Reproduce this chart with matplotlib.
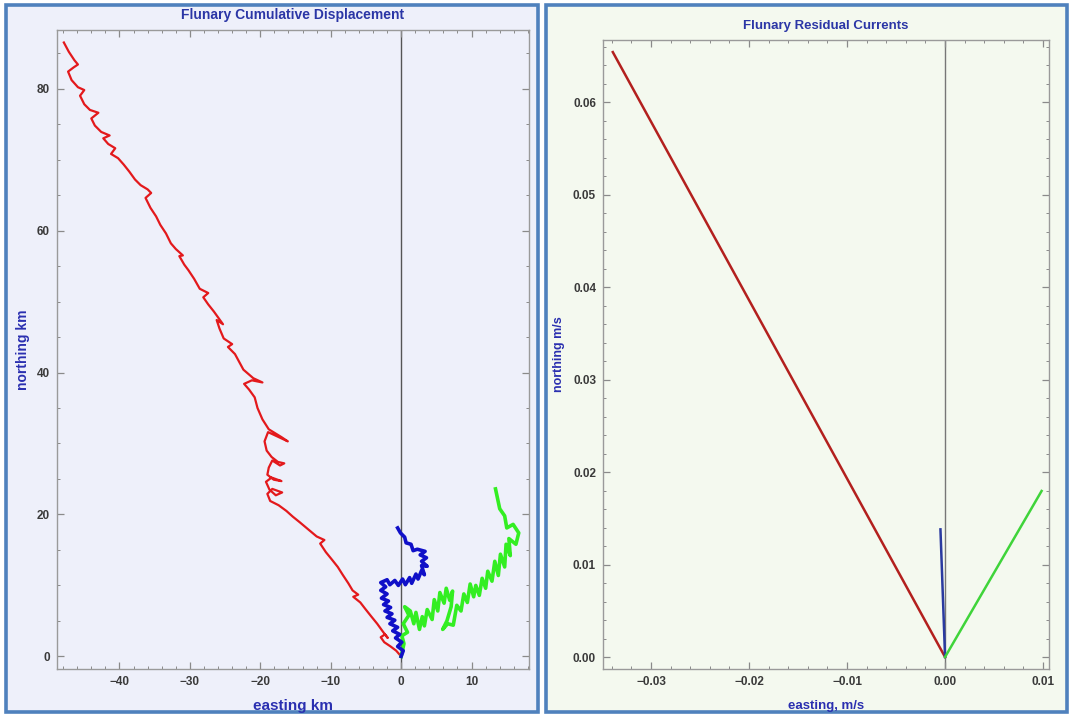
import matplotlib
matplotlib.use("Agg")
import matplotlib.pyplot as plt
from matplotlib.patches import FancyBboxPatch
from matplotlib.ticker import MultipleLocator, FuncFormatter

plt.rcParams['font.family'] = ['Liberation Sans', 'DejaVu Sans']

# cumulative displacement tracks, km (easting, northing)
red_e = [0.0, -0.7, -1.5, -2.4, -2.9, -2.3, -1.9, -2.6, -3.4, -4.3, -5.1, -5.8, -6.8, -6.1, -6.9,
         -7.5, -8.3, -9.0, -9.8, -10.7, -11.5, -10.9, -12.0, -13.2, -14.4, -15.4, -16.3,
         -17.4, -18.6, -19.0, -18.3, -16.9, -17.8, -18.7, -19.2, -18.4, -17.0, -18.1, -19.0,
         -18.8, -18.3, -17.2, -16.6, -17.5, -18.4, -19.1, -19.4, -18.9, -17.6, -16.1, -17.0,
         -18.8, -19.7, -20.4, -20.8, -21.6, -22.3, -21.2, -19.7, -21.0, -22.4, -23.0, -23.6,
         -24.6, -24.0, -25.2, -25.8, -26.2, -25.3, -26.6, -27.4, -28.1, -27.4, -28.6, -29.4,
         -30.2, -30.8, -31.5, -31.0, -32.0, -32.7, -33.4, -34.2, -34.8, -35.6, -36.3, -35.5,
         -36.0, -37.0, -37.8, -38.6, -39.4, -40.2, -41.2, -40.6, -41.6, -42.3, -41.4, -42.6,
         -43.5, -44.0, -43.0, -44.2, -45.0, -45.6, -45.0, -45.9, -46.8, -47.3, -46.5, -45.9,
         -46.4, -47.2, -47.9]
red_n = [0.0, 0.8, 1.4, 2.0, 2.7, 3.1, 2.6, 3.5, 4.6, 5.7, 6.7, 7.6, 8.4, 8.7, 9.3,
         10.3, 11.5, 12.6, 13.6, 14.7, 15.9, 16.4, 16.9, 17.9, 18.9, 19.7, 20.5,
         21.3, 21.9, 22.9, 23.6, 23.1, 22.7, 23.5, 24.6, 25.2, 24.7, 24.9, 25.6,
         26.6, 27.6, 26.9, 27.2, 27.4, 28.1, 29.0, 30.3, 31.6, 31.0, 30.3, 30.9,
         32.0, 33.4, 35.0, 36.5, 37.6, 38.4, 38.9, 38.6, 39.2, 40.4, 41.5, 42.6,
         43.6, 44.0, 44.8, 46.2, 47.4, 46.8, 48.6, 49.6, 50.6, 51.2, 51.8, 53.2,
         54.4, 55.2, 56.4, 56.5, 57.4, 58.2, 59.6, 60.8, 62.0, 63.2, 64.6, 65.3,
         65.8, 66.4, 67.2, 68.3, 69.3, 70.2, 70.8, 71.6, 72.2, 73.0, 73.4, 73.9,
         74.8, 75.8, 76.6, 77.0, 77.8, 79.0, 79.8, 80.2, 81.2, 82.4, 83.0, 83.4,
         84.0, 85.2, 86.5]

blue_e = [0.0, 0.3, -0.5, 0.1, -0.8, -0.2, -1.2, -0.5, -1.6, -0.9, -2.0, -1.3, -2.3, -1.5, -2.5,
          -1.8, -2.8, -2.0, -2.9, -2.2, -2.9, -2.0, -1.6, -0.9, -0.4, 0.2, 0.6, 1.2, 1.5, 2.1,
          2.4, 2.9, 3.3, 2.9, 3.7, 2.9, 3.6, 2.7, 3.4, 2.3, 1.7, 1.4, 0.7, 0.5, -0.1, -0.5]
blue_n = [0.0, 0.8, 1.4, 2.0, 2.6, 3.1, 3.6, 4.1, 4.6, 5.1, 5.5, 6.0, 6.4, 6.9, 7.3,
          7.8, 8.2, 8.8, 9.3, 9.8, 10.4, 10.8, 10.1, 10.7, 10.0, 10.9, 10.1, 11.1, 10.3, 11.6,
          10.9, 12.1, 11.5, 12.8, 12.7, 13.4, 13.9, 14.3, 14.8, 15.1, 14.9, 15.8, 16.0, 16.8, 17.4, 18.1]

green_e = [0.0, 0.4, 0.1, 0.9, 0.3, 1.1, 0.5, 1.3, 1.8, 2.1, 2.6, 3.0, 3.3, 3.7, 4.4, 4.7, 5.2,
           5.5, 6.1, 6.4, 6.9, 7.3, 7.1, 6.5, 5.9, 6.6, 7.4, 7.9, 8.5, 8.9, 9.4, 9.8, 10.3,
           10.6, 11.1, 11.5, 12.0, 12.3, 12.9, 13.3, 13.8, 14.1, 14.7, 14.9, 15.5, 15.3, 16.3,
           16.7, 15.9, 15.0, 14.7, 14.0, 13.7, 13.4]
green_n = [0.0, 1.8, 2.9, 3.4, 4.6, 5.8, 7.0, 6.4, 4.6, 6.2, 3.8, 5.6, 4.3, 6.6, 5.2, 8.0, 6.4,
           9.0, 7.5, 9.6, 7.9, 9.2, 7.0, 5.0, 3.8, 4.6, 4.4, 7.2, 6.4, 8.8, 7.6, 10.2, 8.4,
           10.0, 8.6, 11.0, 9.6, 12.0, 10.6, 13.4, 11.4, 14.4, 12.6, 15.8, 14.2, 16.6, 15.8,
           17.4, 18.6, 18.1, 19.8, 20.8, 22.2, 23.6]

# residual currents, m/s (end points of lines from the origin)
resid_names = ["red", "blue", "green"]
resid_e = [-0.0339, -0.00047, 0.00985]
resid_n = [0.0654, 0.0138, 0.01795]

title_col = '#2b36a6'
label_col = '#2a2fb0'
tick_col = '#3a3a3a'

fig = plt.figure(figsize=(10.72, 7.18), dpi=100)
fig.patch.set_facecolor('white')

# panel boxes
fig.add_artist(FancyBboxPatch((0.0060, 0.0085), 0.4960, 0.9840, boxstyle="square,pad=0",
                              transform=fig.transFigure, facecolor='#eef0fa',
                              edgecolor='#4f81bd', linewidth=2.6, zorder=0))
fig.add_artist(FancyBboxPatch((0.5095, 0.0085), 0.4860, 0.9840, boxstyle="square,pad=0",
                              transform=fig.transFigure, facecolor='#f4f9ef',
                              edgecolor='#4f81bd', linewidth=2.6, zorder=0))


def style_axes(ax):
    for s in ax.spines.values():
        s.set_color('#9a9a9a')
        s.set_linewidth(1.0)
    ax.tick_params(which='both', direction='in', top=True, right=True, color='#8a8a8a')
    ax.tick_params(which='major', length=5, width=0.9, labelsize=8.5, labelcolor=tick_col, pad=5)
    ax.tick_params(which='minor', length=2.5, width=0.7)
    for lab in ax.get_xticklabels() + ax.get_yticklabels():
        lab.set_fontweight('bold')


# left: cumulative displacement
ax1 = fig.add_axes([0.053, 0.0685, 0.4401, 0.8901])
ax1.set_facecolor('#eef0fa')
ax1.axvline(0, color='#555555', lw=1.0, zorder=1)
ax1.plot(red_e, red_n, color='#e3191c', lw=1.6, zorder=3)
ax1.plot(green_e, green_n, color='#33ee22', lw=2.6, zorder=3)
ax1.plot(blue_e, blue_n, color='#1010c8', lw=2.6, zorder=4)
ax1.set_xlim(-48.9, 18.1)
ax1.set_ylim(-1.75, 88.3)
ax1.xaxis.set_major_locator(MultipleLocator(10))
ax1.xaxis.set_minor_locator(MultipleLocator(2))
ax1.yaxis.set_major_locator(MultipleLocator(20))
ax1.yaxis.set_minor_locator(MultipleLocator(5))
style_axes(ax1)
ax1.set_title("Flunary Cumulative Displacement", fontsize=10, fontweight='bold',
              color=title_col, pad=8)
ax1.set_xlabel("easting km", fontsize=11, fontweight='bold', color=label_col, labelpad=8)
ax1.set_ylabel("northing km", fontsize=10, fontweight='bold', color=label_col, labelpad=5)

# right: residual currents
ax2 = fig.add_axes([0.5625, 0.0682, 0.4160, 0.8760])
ax2.set_facecolor('#f4f9ef')
ax2.axvline(0, color='#777777', lw=1.0, zorder=1)
cols2 = {"red": '#b3201e', "blue": '#2a3aa0', "green": '#3fd43a'}
for name, e, n in zip(resid_names, resid_e, resid_n):
    ax2.plot([0, e], [0, n], color=cols2[name], lw=1.8, zorder=3)
ax2.set_xlim(-0.0349, 0.0106)
ax2.set_ylim(-0.0013, 0.0667)
ax2.xaxis.set_major_locator(MultipleLocator(0.01))
ax2.xaxis.set_minor_locator(MultipleLocator(0.002))
ax2.yaxis.set_major_locator(MultipleLocator(0.01))
ax2.yaxis.set_minor_locator(MultipleLocator(0.002))
fmt = FuncFormatter(lambda v, p: ("%.2f" % v).replace("-", "\u2212").replace("\u22120.00", "0.00"))
ax2.xaxis.set_major_formatter(fmt)
ax2.yaxis.set_major_formatter(fmt)
style_axes(ax2)
ax2.set_title("Flunary Residual Currents", fontsize=9.5, fontweight='bold',
              color=title_col, pad=8)
ax2.set_xlabel("easting, m/s", fontsize=9.5, fontweight='bold', color=label_col, labelpad=9)
ax2.set_ylabel("northing m/s", fontsize=9, fontweight='bold', color=label_col, labelpad=6)

fig.savefig("out.png", dpi=100)
